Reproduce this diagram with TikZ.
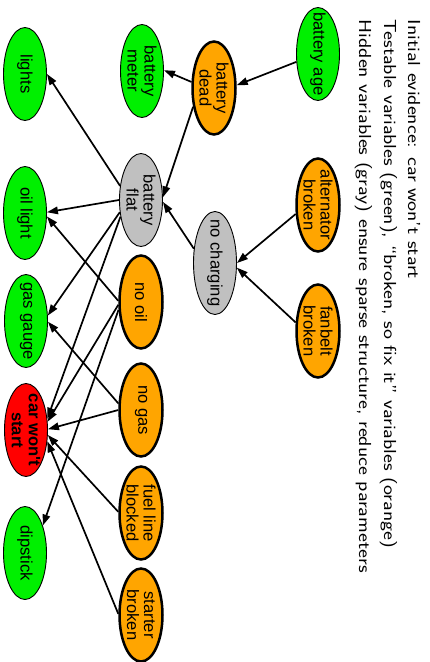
\documentclass[tikz,border=0pt]{standalone}
\usepackage{fontspec}
\newfontfamily\arialf{Liberation Sans}
\usetikzlibrary{shapes.geometric,arrows.meta}
\definecolor{ngreen}{RGB}{0,240,0}
\definecolor{norange}{RGB}{255,165,0}
\definecolor{ngray}{RGB}{192,192,192}
\definecolor{nred}{RGB}{255,0,0}
\newcommand{\capline}[1]{\scalebox{1}[0.82]{#1}}
\begin{document}
\begin{tikzpicture}[x=1pt,y=-1pt,
  vbox/.style={ellipse, draw, rotate=-90, minimum width=93pt, minimum height=43pt, inner sep=0pt},
  testable/.style={vbox, fill=ngreen, line width=0.9pt},
  fixable/.style={vbox, fill=norange, line width=2.5pt},
  hidden/.style={vbox, fill=ngray, line width=0.9pt},
  evidence/.style={vbox, fill=nred, line width=0.9pt},
  lbl/.style={rotate=-90, align=center, inner sep=0pt, font=\arialf\fontsize{16.6}{17}\selectfont},
  conn/.style={-{Stealth[length=11pt,width=7.5pt,inset=0pt]}, line width=1.7pt},
  captext/.style={rotate=-90, anchor=base west, inner sep=0pt, font=\sffamily\fontsize{21.2}{25}\selectfont}
]
\useasboundingbox (0,0) rectangle (430,662);

% caption
\node[captext] (t1) at (408,19.5) {\capline{Initial evidence: car won't start}};
\node[captext] (t2) at (384,19.5) {\capline{Testable variables (green), ``broken, so fix it'' variables (orange)}};
\node[captext] (t3) at (359,19.5) {\capline{Hidden variables (gray) ensure sparse structure, reduce parameters}};

% nodes
\node[testable] (bage) at (318,54) {};
\node[lbl] (bage-t) at (bage) {battery age};
\node[fixable] (alt) at (318,205) {};
\node[lbl] (alt-t) at (alt) {alternator\\broken};
\node[fixable] (fan) at (318,331) {};
\node[lbl] (fan-t) at (fan) {fanbelt\\broken};
\node[fixable] (bdead) at (214,88) {};
\node[lbl] (bdead-t) at (bdead) {battery\\dead};
\node[hidden, minimum width=103pt] (nocharge) at (215,263) {};
\node[lbl] (nocharge-t) at (nocharge) {no charging};
\node[testable] (bmeter) at (142,71) {};
\node[lbl] (bmeter-t) at (bmeter) {battery\\meter};
\node[hidden] (bflat) at (141,200) {};
\node[lbl] (bflat-t) at (bflat) {battery\\flat};
\node[fixable] (nooil) at (141,302) {};
\node[lbl] (nooil-t) at (nooil) {no oil};
\node[fixable] (nogas) at (141,410) {};
\node[lbl] (nogas-t) at (nogas) {no gas};
\node[fixable] (fuel) at (141,513) {};
\node[lbl] (fuel-t) at (fuel) {fuel line\\blocked};
\node[fixable] (starter) at (141,615) {};
\node[lbl] (starter-t) at (starter) {starter\\broken};
\node[testable] (lights) at (25,74) {};
\node[lbl] (lights-t) at (lights) {lights};
\node[testable] (oil) at (25,213) {};
\node[lbl] (oil-t) at (oil) {oil light};
\node[testable] (gas) at (26,321) {};
\node[lbl] (gas-t) at (gas) {gas gauge};
\node[evidence] (car) at (26,430) {};
\node[lbl, font=\arialf\bfseries\fontsize{16.6}{17}\selectfont] (car-t) at (car) {car won't\\start};
\node[testable] (dip) at (25,553) {};
\node[lbl] (dip-t) at (dip) {dipstick};

% connectors
\draw[conn] (bage.290) -- (bdead.97);
\draw[conn] (bdead.255) -- (bmeter.92);
\draw[conn] (bdead.312) -- (bflat.97);
\draw[conn] (nocharge.236) -- (bflat.85);
\draw[conn] (alt.292) -- (nocharge.90);
\draw[conn] (fan.249) -- (nocharge.78);
\draw[conn] (bflat.236) -- (lights.90);
\draw[conn] (bflat.270) -- (oil.92);
\draw[conn] (bflat.300) -- (gas.104);
\draw[conn] (bflat.309) -- (car.118);
\draw[conn] (nooil.267) -- (oil.81);
\draw[conn] (nooil.277) -- (car.111);
\draw[conn] (nooil.289) -- (dip.147);
\draw[conn] (nogas.254) -- (gas.88);
\draw[conn] (nogas.270) -- (car.92);
\draw[conn] (fuel.267) -- (car.77);
\draw[conn] (starter.267) -- (car.62);
\end{tikzpicture}
\end{document}
